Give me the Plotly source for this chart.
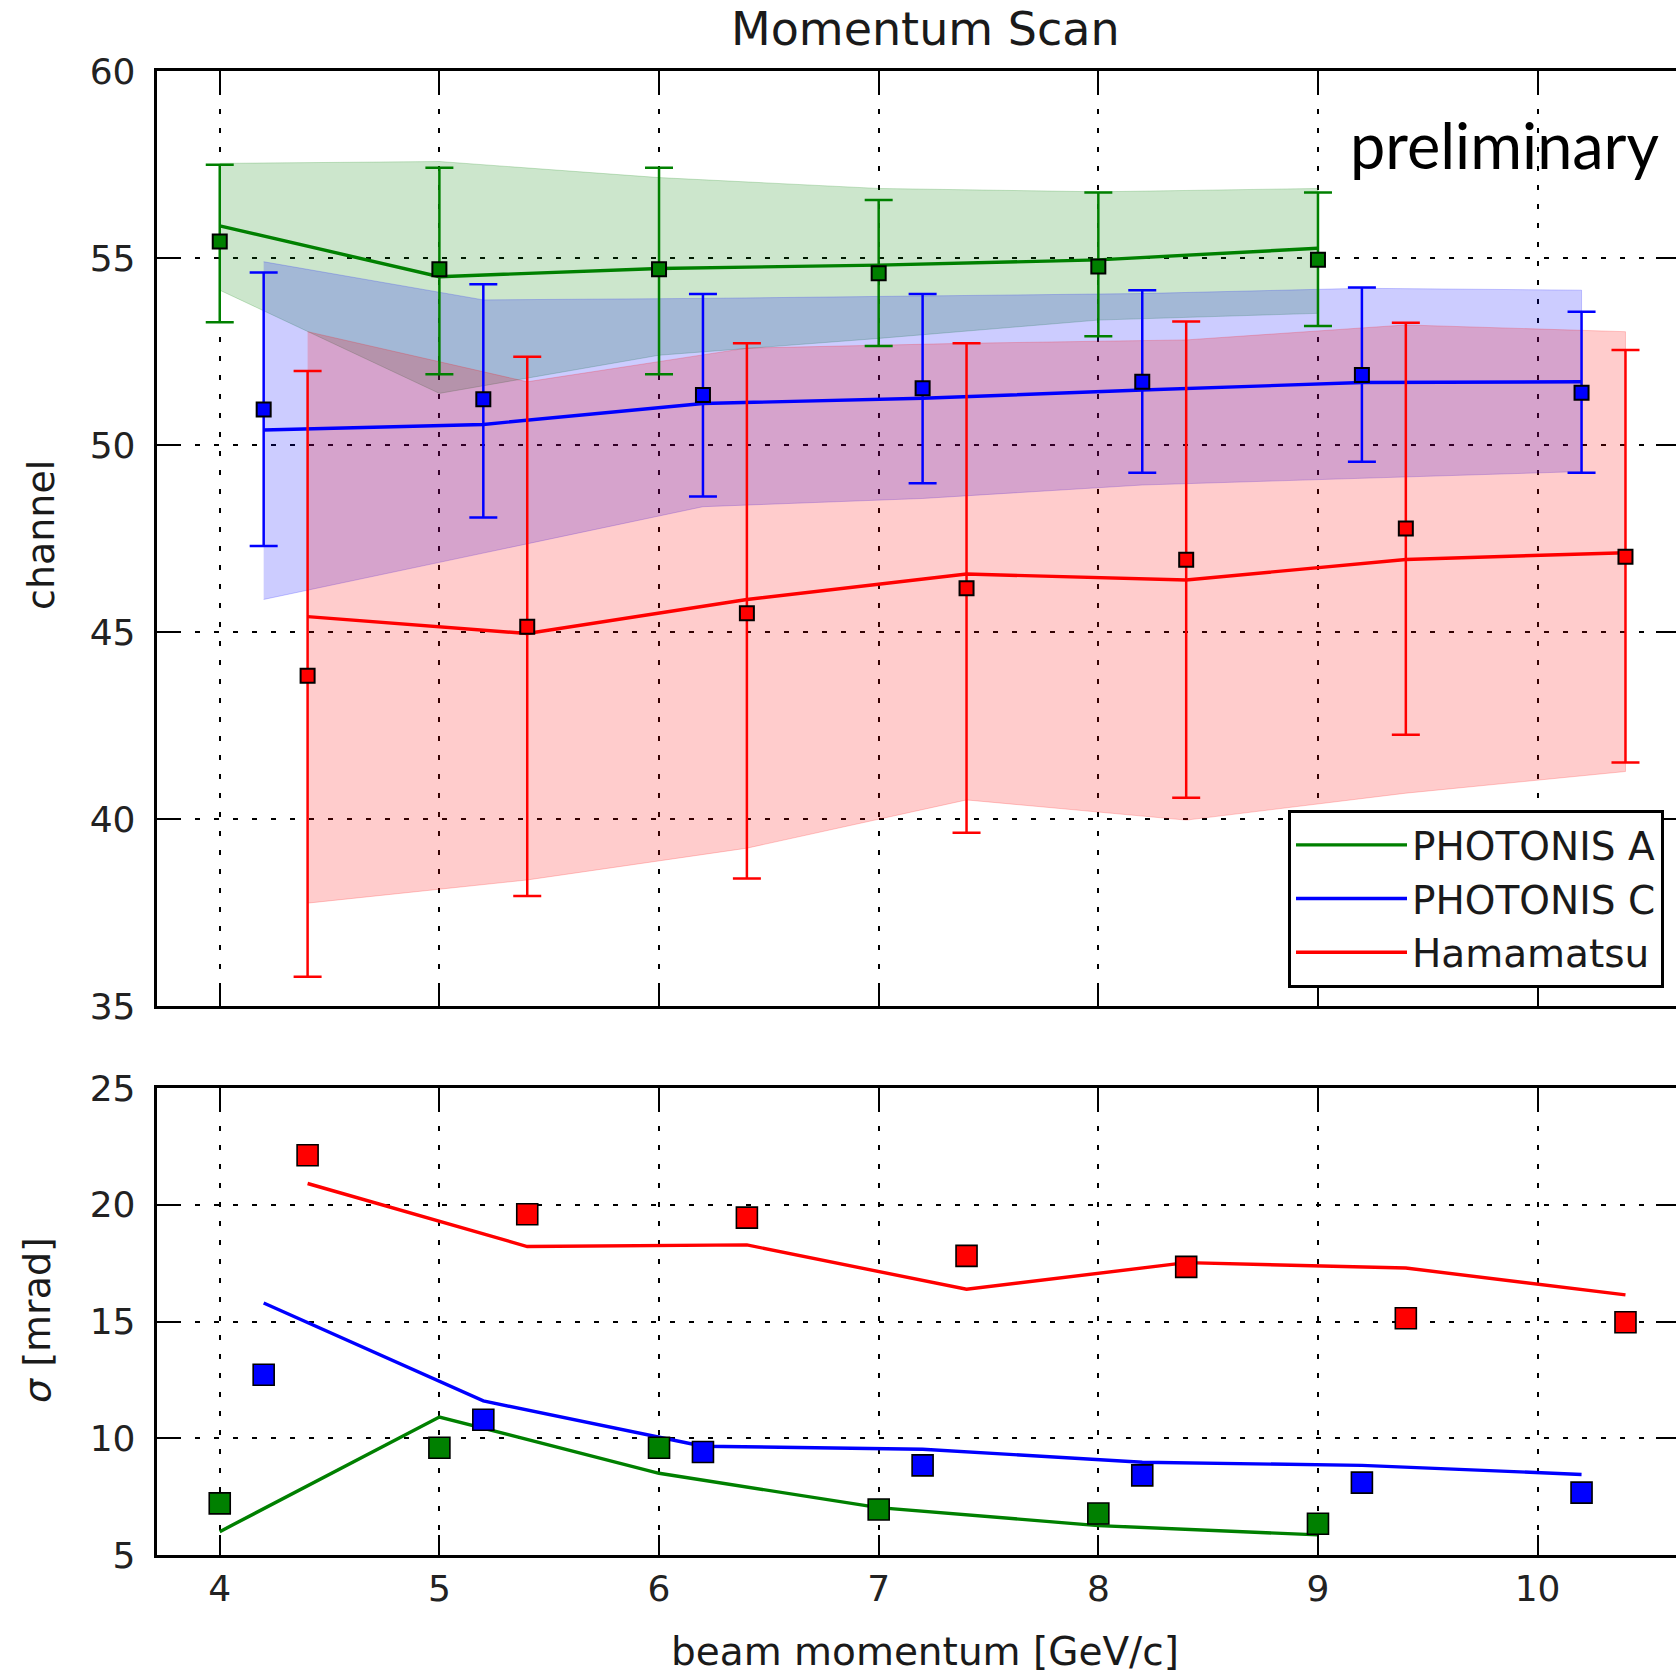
import plotly.graph_objects as go

# ---------------- data ----------------
# top panel: mean channel vs beam momentum
x_a = [4, 5, 6, 7, 8, 9]
a_val = [55.44, 54.70, 54.70, 54.59, 54.77, 54.95]
a_err_hi = [57.49, 57.41, 57.41, 56.55, 56.75, 56.75]
a_err_lo = [53.28, 51.89, 51.89, 52.65, 52.91, 53.18]
a_fit = [55.86, 54.50, 54.72, 54.81, 54.95, 55.26]
a_band_hi = [57.53, 57.58, 57.15, 56.86, 56.77, 56.86]
a_band_lo = [54.14, 51.38, 52.40, 52.85, 53.34, 53.52]

x_c = [4.2, 5.2, 6.2, 7.2, 8.2, 9.2, 10.2]
c_val = [50.95, 51.22, 51.34, 51.52, 51.69, 51.87, 51.40]
c_err_hi = [54.61, 54.30, 54.04, 54.04, 54.14, 54.21, 53.56]
c_err_lo = [47.30, 48.06, 48.62, 48.98, 49.26, 49.55, 49.26]
c_fit = [50.40, 50.55, 51.11, 51.25, 51.47, 51.67, 51.69]
c_band_hi = [54.90, 53.88, 53.92, 53.98, 54.05, 54.19, 54.14]
c_band_lo = [45.87, 47.11, 48.35, 48.57, 48.93, 49.11, 49.29]

x_h = [4.4, 5.4, 6.4, 7.4, 8.4, 9.4, 10.4]
h_val = [43.83, 45.14, 45.50, 46.17, 46.93, 47.77, 47.01]
h_err_hi = [51.98, 52.36, 52.72, 52.72, 53.30, 53.27, 52.54]
h_err_lo = [35.78, 37.94, 38.41, 39.63, 40.57, 42.25, 41.51]
h_fit = [45.41, 44.96, 45.87, 46.55, 46.39, 46.94, 47.12]
h_band_hi = [53.03, 51.69, 52.59, 52.72, 52.81, 53.21, 53.03]
h_band_lo = [37.75, 38.37, 39.22, 40.51, 39.97, 40.69, 41.27]

# bottom panel: sigma [mrad]
sig_a = [7.21, 9.59, 9.59, 6.95, 6.78, 6.34]
sig_a_fit = [6.00, 10.91, 8.50, 7.03, 6.26, 5.86]
sig_c = [12.72, 10.79, 9.41, 8.84, 8.41, 8.10, 7.67]
sig_c_fit = [15.79, 11.60, 9.66, 9.53, 8.97, 8.84, 8.45]
sig_h = [22.12, 19.59, 19.45, 17.81, 17.34, 15.14, 14.97]
sig_h_fit = [20.91, 18.21, 18.28, 16.38, 17.52, 17.29, 16.14]

names = ["PHOTONIS A", "PHOTONIS C", "Hamamatsu"]
x_ticks = [4, 5, 6, 7, 8, 9, 10]
y_top_ticks = [35, 40, 45, 50, 55, 60]
y_bot_ticks = [5, 10, 15, 20, 25]

# ---------------- styling ----------------
colors = ["#008000", "#0000ff", "#ff0000"]
fills = ["rgba(0,128,0,0.2)", "rgba(0,0,255,0.2)", "rgba(255,0,0,0.2)"]
FONT = "DejaVu Sans"
TXT = "#1a1a1a"

series = [
    (x_a, a_val, a_err_hi, a_err_lo, a_fit, a_band_hi, a_band_lo, sig_a, sig_a_fit),
    (x_c, c_val, c_err_hi, c_err_lo, c_fit, c_band_hi, c_band_lo, sig_c, sig_c_fit),
    (x_h, h_val, h_err_hi, h_err_lo, h_fit, h_band_hi, h_band_lo, sig_h, sig_h_fit),
]

fig = go.Figure()

# bands
for i, s in enumerate(series):
    xs, v, eh, el, fit, bh, bl, sg, sgf = s
    fig.add_trace(go.Scatter(
        x=list(xs) + list(xs)[::-1], y=list(bh) + list(bl)[::-1],
        fill="toself", fillcolor=fills[i], mode="lines",
        line=dict(color=fills[i], width=1), showlegend=False,
        hoverinfo="skip", xaxis="x", yaxis="y"))

# fit lines (top) with legend
for i, s in enumerate(series):
    xs, v, eh, el, fit, bh, bl, sg, sgf = s
    fig.add_trace(go.Scatter(
        x=xs, y=fit, mode="lines", name=names[i],
        line=dict(color=colors[i], width=3.4), showlegend=True,
        xaxis="x", yaxis="y"))

# data points with error bars (top)
for i, s in enumerate(series):
    xs, v, eh, el, fit, bh, bl, sg, sgf = s
    fig.add_trace(go.Scatter(
        x=xs, y=v, mode="markers", showlegend=False,
        marker=dict(symbol="square", size=14, color=colors[i],
                    line=dict(color="black", width=2)),
        error_y=dict(type="data", symmetric=False,
                     array=[h - y for h, y in zip(eh, v)],
                     arrayminus=[y - l for y, l in zip(v, el)],
                     color=colors[i], thickness=2.5, width=14),
        xaxis="x", yaxis="y"))

# bottom panel lines
for i, s in enumerate(series):
    xs, v, eh, el, fit, bh, bl, sg, sgf = s
    fig.add_trace(go.Scatter(
        x=xs, y=sgf, mode="lines", showlegend=False,
        line=dict(color=colors[i], width=3.4), xaxis="x2", yaxis="y2"))
for i, s in enumerate(series):
    xs, v, eh, el, fit, bh, bl, sg, sgf = s
    fig.add_trace(go.Scatter(
        x=xs, y=sg, mode="markers", showlegend=False,
        marker=dict(symbol="square", size=21, color=colors[i],
                    line=dict(color="black", width=1.6)),
        xaxis="x2", yaxis="y2"))

W, H = 1676, 1674
x_dom = [156.7 / W, 1.0]
y_top_dom = [1 - 1006 / H, 1 - 71 / H]
y_bot_dom = [1 - 1555 / H, 1 - 1088 / H]

axis_common = dict(
    showline=True, linecolor="black", linewidth=3, mirror="ticks",
    ticks="inside", ticklen=20, tickwidth=2, tickcolor="black",
    showgrid=True, gridcolor="black", gridwidth=1.5, griddash="5px,14px",
    zeroline=False, automargin=False,
    tickfont=dict(family=FONT, size=36, color="#222222"),
)

fig.update_layout(
    width=W, height=H,
    margin=dict(l=0, r=0, t=0, b=0, pad=0, autoexpand=False),
    paper_bgcolor="white", plot_bgcolor="white",
    font=dict(family=FONT, color=TXT),
    xaxis=dict(domain=x_dom, range=[3.713, 10.63], anchor="y",
               tickvals=x_ticks, showticklabels=False, **axis_common),
    yaxis=dict(domain=y_top_dom, range=[35, 60], anchor="x",
               tickvals=y_top_ticks, ticklabelstandoff=11, **axis_common),
    xaxis2=dict(domain=x_dom, range=[3.713, 10.63], anchor="y2",
                tickvals=x_ticks, ticklabelstandoff=0, **axis_common),
    yaxis2=dict(domain=y_bot_dom, range=[5, 25], anchor="x2",
                tickvals=y_bot_ticks, ticklabelstandoff=11, **axis_common),
    legend=dict(x=1288 / W, y=1 - 810 / H, xanchor="left", yanchor="top",
                bgcolor="white", bordercolor="black", borderwidth=3,
                font=dict(family=FONT, size=39, color=TXT),
                itemwidth=111, tracegroupgap=0),
    annotations=[
        dict(text="Momentum Scan", x=925 / W, y=1 - 29 / H, xref="paper", yref="paper",
             showarrow=False, xanchor="center", yanchor="middle",
             font=dict(family=FONT, size=46, color=TXT)),
        dict(text="beam momentum [GeV/c]", x=925 / W, y=1 - 1651 / H, xref="paper", yref="paper",
             showarrow=False, xanchor="center", yanchor="middle",
             font=dict(family=FONT, size=39, color=TXT)),
        dict(text="channel", x=41 / W, y=1 - 535 / H, xref="paper", yref="paper",
             showarrow=False, xanchor="center", yanchor="middle", textangle=-90,
             font=dict(family=FONT, size=38, color=TXT)),
        dict(text="<i>σ</i> [mrad]", x=37 / W, y=1 - 1320 / H, xref="paper", yref="paper",
             showarrow=False, xanchor="center", yanchor="middle", textangle=-90,
             font=dict(family=FONT, size=38, color=TXT)),
        dict(text="preliminary", x=1504 / W, y=1 - 144 / H, xref="paper", yref="paper",
             showarrow=False, xanchor="center", yanchor="middle",
             font=dict(family="Lato", size=63, color="black")),
    ],
)

fig.write_html("out.html")
